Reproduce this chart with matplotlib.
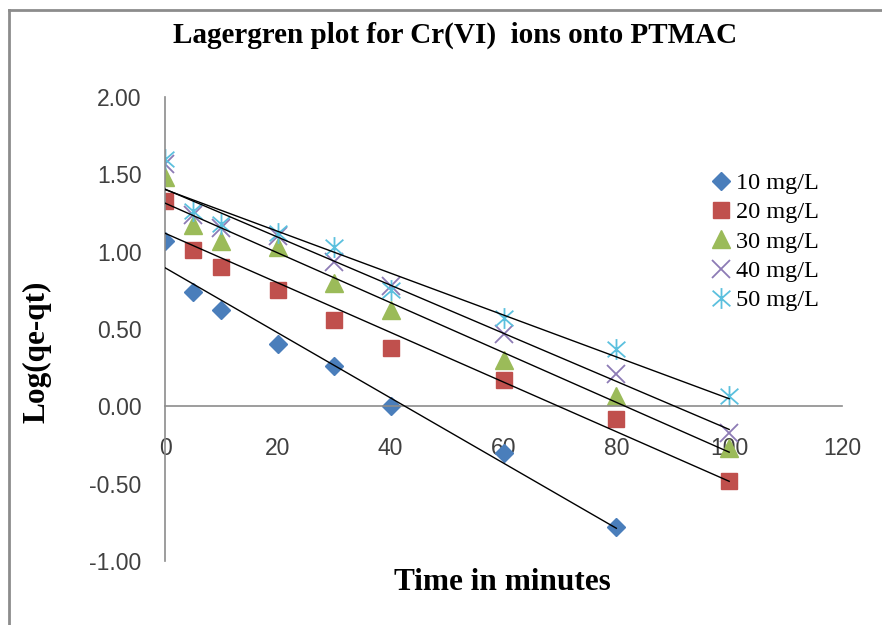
import numpy as np
import matplotlib
matplotlib.use("Agg")
import matplotlib.pyplot as plt
from matplotlib.path import Path
from matplotlib.lines import Line2D

# ---- data ----
time_min = [0, 5, 10, 20, 30, 40, 60, 80, 100]
t_10 = [0, 5, 10, 20, 30, 40, 60, 80]
log_10 = [1.07, 0.74, 0.62, 0.40, 0.26, 0.00, -0.30, -0.78]
log_20 = [1.33, 1.01, 0.90, 0.75, 0.56, 0.38, 0.17, -0.08, -0.48]
log_30 = [1.48, 1.17, 1.07, 1.03, 0.80, 0.62, 0.30, 0.07, -0.27]
log_40 = [1.57, 1.24, 1.15, 1.10, 0.93, 0.78, 0.47, 0.21, -0.17]
log_50 = [1.60, 1.26, 1.18, 1.12, 1.03, 0.75, 0.57, 0.37, 0.07]
labels = ["10 mg/L", "20 mg/L", "30 mg/L", "40 mg/L", "50 mg/L"]
x_ticks = [0, 20, 40, 60, 80, 100, 120]
y_ticks = [-1.0, -0.5, 0.0, 0.5, 1.0, 1.5, 2.0]
y_tick_labels = ["-1.00", "-0.50", "0.00", "0.50", "1.00", "1.50", "2.00"]

series = [
    (t_10, log_10),
    (time_min, log_20),
    (time_min, log_30),
    (time_min, log_40),
    (time_min, log_50),
]
colors = ["#4A7EBB", "#C0504D", "#9BBB59", "#8D7BB5", "#5BC0DE"]

# asterisk marker: X plus vertical line
star_path = Path(
    [(-0.85, -0.75), (0.85, 0.75), (-0.85, 0.75), (0.85, -0.75), (0, -1), (0, 1)],
    [Path.MOVETO, Path.LINETO, Path.MOVETO, Path.LINETO, Path.MOVETO, Path.LINETO],
)
markers = ["D", "s", "^", "x", star_path]
msizes = [9.5, 12, 13, 12.5, 15]

W, H = 882, 625
fig = plt.figure(figsize=(W / 100, H / 100), dpi=100)
ax = fig.add_axes([165 / W, 1 - 561 / H, (842 - 165) / W, (561 - 97) / H])

serif = "Liberation Serif"
sans = "Liberation Sans"

for (xs, ys), c, m, ms, lab in zip(series, colors, markers, msizes, labels):
    xs = np.asarray(xs, float)
    ys = np.asarray(ys, float)
    k, b = np.polyfit(xs, ys, 1)
    xx = np.array([0, xs.max()])
    ax.plot(xx, k * xx + b, color="black", lw=1.0, zorder=3)
    if m == "x" or isinstance(m, Path):
        ax.plot(xs, ys, linestyle="none", marker=m, ms=ms, mec=c, mew=1.3,
                color=c, label=lab, zorder=2)
    else:
        ax.plot(xs, ys, linestyle="none", marker=m, ms=ms, mfc=c, mec=c,
                color=c, label=lab, zorder=2)

ax.set_xlim(0, 120)
ax.set_ylim(-1, 2)
ax.set_xticks(x_ticks)
ax.set_xticklabels([str(v) for v in x_ticks])
ax.set_yticks(y_ticks)
ax.set_yticklabels(y_tick_labels)

for s in ["top", "right"]:
    ax.spines[s].set_visible(False)
ax.spines["bottom"].set_position(("data", 0))
for s in ["bottom", "left"]:
    ax.spines[s].set_color("#8C8C8C")
    ax.spines[s].set_linewidth(1.2)
ax.tick_params(axis="both", length=0, labelsize=16.5, colors="#404040")
ax.tick_params(axis="x", pad=22)
ax.tick_params(axis="y", pad=17)
for t in ax.get_xticklabels() + ax.get_yticklabels():
    t.set_fontfamily(sans)
    t.set_color("#404040")

fig.text(455 / W, 1 - 35 / H, "Lagergren plot for Cr(VI)  ions onto PTMAC",
         ha="center", va="center", fontfamily=serif, fontweight="bold", fontsize=21)
fig.text(502 / W, 1 - 583 / H, "Time in minutes", ha="center", va="center",
         fontfamily=serif, fontweight="bold", fontsize=22.5)
fig.text(37 / W, 1 - 352 / H, "Log(qe-qt)", ha="center", va="center", rotation=90,
         fontfamily=serif, fontweight="bold", fontsize=22.5)

leg = ax.legend(loc="upper left", bbox_to_anchor=(698 / W, 1 - 160 / H),
                bbox_transform=fig.transFigure, frameon=False,
                prop={"family": serif, "size": 17.5}, handlelength=0.9,
                handletextpad=0.15, labelspacing=0.3, borderpad=0, numpoints=1)

# figure frame lines (left & top)
fig.add_artist(Line2D([9 / W, 9 / W], [0, 1 - 10 / H], transform=fig.transFigure,
                      color="#8C8C8C", lw=2))
fig.add_artist(Line2D([9 / W, 1], [1 - 10 / H, 1 - 10 / H], transform=fig.transFigure,
                      color="#8C8C8C", lw=2))

fig.savefig("out.png", dpi=100)
